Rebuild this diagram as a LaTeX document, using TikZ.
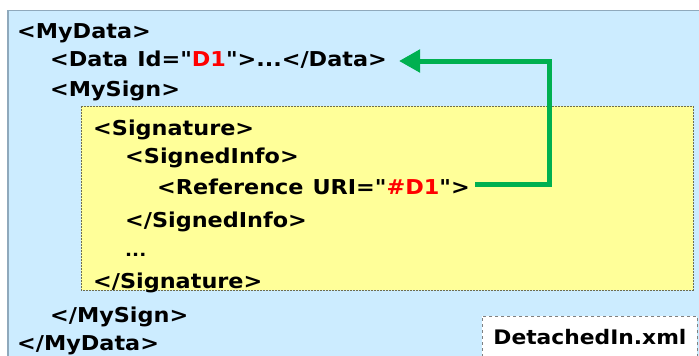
\documentclass[tikz,border=0pt]{standalone}
\usepackage{fontspec}
\newfontfamily\codefont{DejaVu Sans Bold}[FakeStretch=1.09, WordSpace=1.15]
\usetikzlibrary{arrows.meta}
\definecolor{panelblue}{HTML}{CCECFF}
\definecolor{paneledge}{HTML}{8FA9BC}
\definecolor{sigyellow}{HTML}{FFFF99}
\definecolor{sigedge}{HTML}{6E6E50}
\definecolor{linkgreen}{HTML}{00B050}
\definecolor{idred}{HTML}{FF0000}
\tikzset{
  x=1pt, y=-1pt,
  code/.style={anchor=base west, inner sep=0pt, font=\fontsize{20.5}{24}\selectfont\codefont},
  link/.style={draw=linkgreen, line width=5pt, line join=miter,
    -{Triangle[length=21pt,width=22pt]}},
}
\newcommand{\idval}[1]{\textcolor{idred}{#1}}
\newcommand{\qt}{\symbol{34}}
\begin{document}
\begin{tikzpicture}
\useasboundingbox (0,0) rectangle (699,356);
% outer panel
\fill[white] (0,0) rectangle (699,356);
\fill[panelblue] (8,10) rectangle (699,356);
\draw[paneledge, line width=0.8pt] (8,10) -- (699,10);
\draw[paneledge, line width=2pt] (8,10) -- (8,356);
% signature block
\draw[sigedge, fill=sigyellow, line width=1pt, dash pattern=on 2pt off 1pt] (81,106) rectangle (693,290);
% file label
\node[draw=gray, dashed, fill=white, line width=0.9pt, minimum width=215pt, minimum height=42pt,
      anchor=north west, inner sep=0pt, font=\fontsize{20}{24}\selectfont\codefont]
  (file) at (482,316) {DetachedIn.xml};
% document lines
\node[code] (mydata)  at (17,38)  {<MyData>};
\node[code] (data)    at (50,66)  {<Data Id=\qt\idval{D1}\qt>...</Data>};
\node[code] (mysign)  at (50,96)  {<MySign>};
\node[code] (sig)     at (93,135) {<Signature>};
\node[code] (si)      at (125,163){<SignedInfo>};
\node[code] (ref)     at (157,194){<Reference URI=\qt\idval{\#D1}\qt>};
\node[code] (sie)     at (125,227){</SignedInfo>};
\node[code, font=\fontsize{17}{20}\selectfont\codefont] (dots) at (125,256){...};
\node[code] (sigend)  at (93,288) {</Signature>};
\node[code] (mysignend) at (50,322) {</MySign>};
\node[code] (mydataend) at (17,350) {</MyData>};
% reference link: from the Reference line back up to the Data element
\coordinate (linkstart) at (475,184);
\coordinate (bendlow) at (549,184);
\coordinate (bendtop) at (549,61);
\coordinate (linkend) at (399,61);
\draw[link] (linkstart) -- (bendlow) -- (bendtop) -- (linkend);
\end{tikzpicture}
\end{document}
